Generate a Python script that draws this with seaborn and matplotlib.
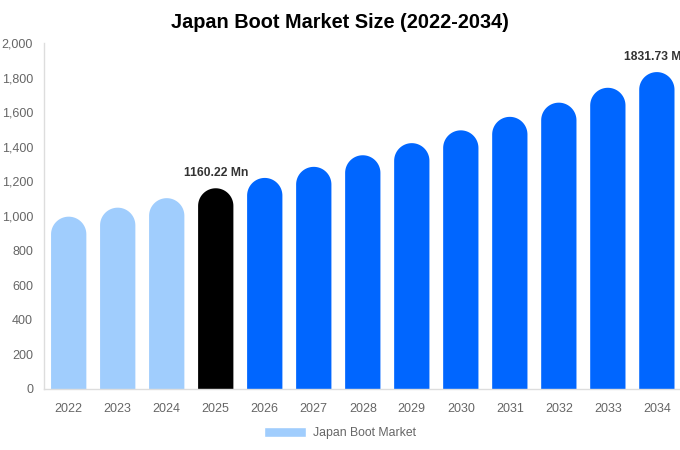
import matplotlib
matplotlib.use("Agg")
import matplotlib.pyplot as plt
import seaborn as sns
import pandas as pd
import numpy as np
from matplotlib.patches import Polygon, Patch
from matplotlib.ticker import FuncFormatter

# data
years = [2022, 2023, 2024, 2025, 2026, 2027, 2028, 2029, 2030, 2031, 2032, 2033, 2034]
values = [996, 1048, 1103, 1160.22, 1220, 1284, 1351, 1421, 1495, 1573, 1655, 1741, 1831.73]
bar_colors = ["#a0cdfd"] * 3 + ["#000000"] + ["#0066ff"] * 9
value_labels = {2025: "1160.22 Mn", 2034: "1831.73 Mn"}
legend_label = "Japan Boot Market"
title = "Japan Boot Market Size (2022-2034)"

sns.set_style("white")
plt.rcParams["font.family"] = ["Liberation Sans", "DejaVu Sans"]

fig = plt.figure(figsize=(6.8, 4.5), dpi=100)
ax = fig.add_axes([0.065, 0.1356, 0.937, 0.7689])

df = pd.DataFrame({"year": [str(y) for y in years], "value": values})
sns.barplot(data=df, x="year", y="value", hue="year", palette=bar_colors,
            legend=False, width=0.72, saturation=1, ax=ax)

ax.set_ylim(0, 2000)
ax.set_xlim(-0.5, len(years) - 0.5)

# redraw each seaborn bar as one shape with a half-round top
fig.canvas.draw()
bbox = ax.get_window_extent()
px_per_x = bbox.width / len(years)
px_per_y = bbox.height / 2000
theta = np.linspace(np.pi, 0, 40)
for patch in list(ax.patches):
    x0 = patch.get_x()
    w = patch.get_width()
    h = patch.get_height()
    fc = patch.get_facecolor()
    patch.set_visible(False)
    r_x = w / 2
    r_y = r_x * px_per_x / px_per_y
    cx, cy = x0 + r_x, h - r_y
    arc = np.column_stack([cx + r_x * np.cos(theta), cy + r_y * np.sin(theta)])
    verts = np.vstack([[x0, 0], arc, [x0 + w, 0]])
    ax.add_patch(Polygon(verts, closed=True, facecolor=fc,
                         edgecolor="none", linewidth=0))

for i, y in enumerate(years):
    if y in value_labels:
        ax.annotate(value_labels[y], (i, values[i]), xytext=(0, 9),
                    textcoords="offset pixels", ha="center", va="bottom",
                    fontsize=8.7, fontweight="bold", color="#333333",
                    annotation_clip=False)

ax.set_xlabel("")
ax.set_ylabel("")
ax.set_yticks(range(0, 2001, 200))
ax.yaxis.set_major_formatter(FuncFormatter(lambda v, p: f"{int(v):,}"))
ax.tick_params(length=0, labelsize=9, labelcolor="#666666")
ax.tick_params(axis="y", pad=8)
ax.tick_params(axis="x", pad=10)
for s in ["top", "right"]:
    ax.spines[s].set_visible(False)
for s in ["left", "bottom"]:
    ax.spines[s].set_color("#dddddd")
    ax.spines[s].set_linewidth(1)

fig.text(0.5, 1 - 22 / 450, title, ha="center", va="center",
         fontsize=14.3, fontweight="bold", color="#000000")

fig.legend(handles=[Patch(facecolor="#a0cdfd", label=legend_label)],
           loc="center", bbox_to_anchor=(0.5, 1 - 433 / 450), frameon=False,
           fontsize=8.8, labelcolor="#666666", handlelength=3.4, handleheight=0.9,
           handletextpad=0.6)

fig.savefig("out.png", dpi=100)
